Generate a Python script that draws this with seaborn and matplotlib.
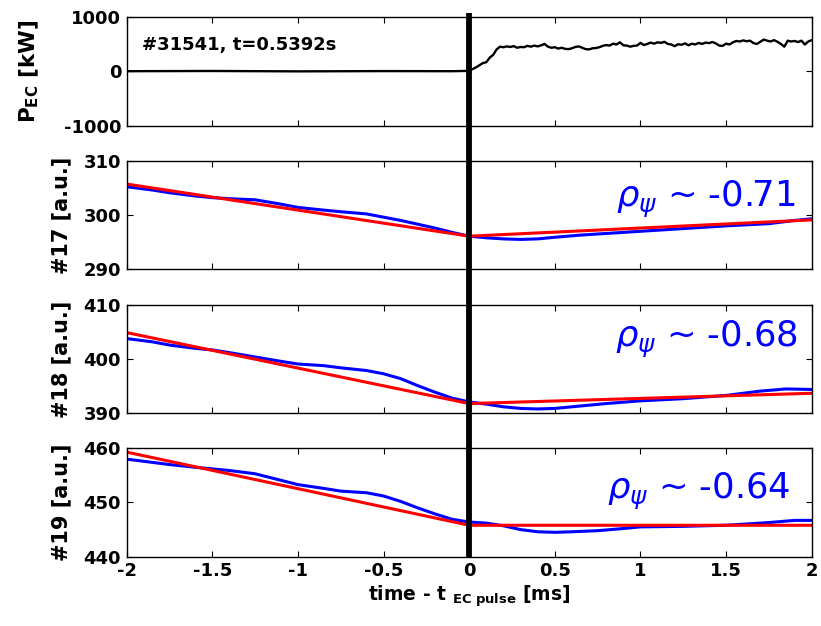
import numpy as np
import matplotlib
matplotlib.use('Agg')
import matplotlib.pyplot as plt
import matplotlib.transforms as mtransforms
from matplotlib.lines import Line2D
import seaborn as sns

# --- data (time relative to EC pulse, ms) ---
SHOT_TEXT = '#31541, t=0.5392s'
T_PULSE = 0.0

t_pec = [-2.0, -1.5, -1.0, -0.5, -0.1, -0.02,
         0.00, 0.02, 0.04, 0.06, 0.08, 0.10, 0.12, 0.14, 0.16, 0.18,
         0.20, 0.22, 0.24, 0.26, 0.28, 0.30, 0.32, 0.34, 0.36, 0.38,
         0.40, 0.42, 0.44, 0.46, 0.48, 0.50, 0.52, 0.54, 0.56, 0.58,
         0.60, 0.62, 0.64, 0.66, 0.68, 0.70, 0.72, 0.74, 0.76, 0.78,
         0.80, 0.82, 0.84, 0.86, 0.88, 0.90, 0.92, 0.94, 0.96, 0.98,
         1.00, 1.02, 1.04, 1.06, 1.08, 1.10, 1.12, 1.14, 1.16, 1.18,
         1.20, 1.22, 1.24, 1.26, 1.28, 1.30, 1.32, 1.34, 1.36, 1.38,
         1.40, 1.42, 1.44, 1.46, 1.48, 1.50, 1.52, 1.54, 1.56, 1.58,
         1.60, 1.62, 1.64, 1.66, 1.68, 1.70, 1.72, 1.74, 1.76, 1.78,
         1.80, 1.82, 1.84, 1.86, 1.88, 1.90, 1.92, 1.94, 1.96, 1.98, 2.00]
p_ec = [0, 4, -3, 2, 0, 5,
        15, 40, 70, 110, 150, 165, 250, 300, 400, 450,
        440, 455, 445, 460, 430, 445, 440, 465, 450, 470,
        455, 475, 500, 450, 430, 440, 415, 430, 410, 405,
        420, 445, 455, 430, 405, 400, 420, 425, 440, 465,
        480, 470, 505, 490, 530, 475, 470, 450, 465, 470,
        520, 480, 500, 525, 505, 530, 520, 540, 500, 490,
        460, 495, 485, 510, 475, 505, 490, 520, 500, 525,
        515, 535, 510, 470, 465, 505, 490, 530, 555, 545,
        565, 550, 560, 515, 500, 540, 580, 560, 545, 570,
        540, 500, 450, 560, 545, 555, 535, 560, 490, 545, 570]

channels = ['#17', '#18', '#19']
rho_psi = ['-0.71', '-0.68', '-0.64']
ylims = [(290, 310), (390, 410), (440, 460)]

t17 = [-2.0, -1.85, -1.75, -1.6, -1.5, -1.4, -1.25, -1.1, -1.0, -0.85, -0.75, -0.6,
       -0.5, -0.4, -0.3, -0.2, -0.1, 0.0, 0.1, 0.2, 0.3, 0.4, 0.5, 0.65, 0.8,
       1.0, 1.25, 1.5, 1.75, 1.9, 2.0]
ch17 = [305.2, 304.6, 304.1, 303.5, 303.2, 303.0, 302.8, 302.0, 301.4, 300.9, 300.6, 300.2,
        299.6, 299.0, 298.3, 297.6, 296.8, 296.1, 295.8, 295.6, 295.5, 295.6, 295.9, 296.3, 296.6,
        297.0, 297.5, 298.0, 298.4, 299.0, 299.3]
t18 = [-2.0, -1.85, -1.75, -1.6, -1.5, -1.4, -1.25, -1.1, -1.0, -0.85, -0.75, -0.6,
       -0.5, -0.4, -0.3, -0.2, -0.1, 0.0, 0.1, 0.2, 0.3, 0.4, 0.5, 0.6, 0.8,
       1.0, 1.25, 1.5, 1.7, 1.85, 2.0]
ch18 = [403.8, 403.2, 402.6, 402.0, 401.7, 401.2, 400.4, 399.6, 399.1, 398.8, 398.4, 397.9,
        397.3, 396.4, 395.1, 393.9, 392.8, 392.1, 391.7, 391.2, 390.9, 390.8, 390.9, 391.2, 391.8,
        392.3, 392.7, 393.3, 394.1, 394.5, 394.4]
t19 = [-2.0, -1.85, -1.75, -1.6, -1.5, -1.4, -1.25, -1.1, -1.0, -0.85, -0.75, -0.6,
       -0.5, -0.4, -0.3, -0.2, -0.1, 0.0, 0.1, 0.2, 0.3, 0.4, 0.5, 0.6, 0.75, 0.9,
       1.0, 1.25, 1.5, 1.75, 1.9, 2.0]
ch19 = [458.0, 457.4, 457.0, 456.5, 456.2, 455.9, 455.3, 454.1, 453.3, 452.6, 452.1, 451.8,
        451.2, 450.2, 449.0, 447.9, 446.9, 446.4, 446.2, 445.7, 445.0, 444.6, 444.5, 444.6, 444.8, 445.2,
        445.5, 445.6, 445.8, 446.3, 446.7, 446.7]

# two-segment linear fits (before / after pulse)
t_fit = [-2.0, 0.0, 2.0]
fit17 = [305.7, 296.1, 299.1]
fit18 = [404.9, 391.8, 393.7]
fit19 = [459.3, 445.8, 445.8]

data_t = [t17, t18, t19]
data_y = [ch17, ch18, ch19]
fits = [fit17, fit18, fit19]

xticks = [-2, -1.5, -1, -0.5, 0, 0.5, 1, 1.5, 2]
xticklabels = ['-2', '-1.5', '-1', '-0.5', '0', '0.5', '1', '1.5', '2']

# --- style ---
sns.set_style('ticks')
plt.rcParams['font.family'] = ['DejaVu Sans']
plt.rcParams['mathtext.fontset'] = 'dejavusans'
plt.rcParams['axes.unicode_minus'] = False
for key in ['text.color', 'axes.labelcolor', 'xtick.color', 'ytick.color',
            'xtick.labelcolor', 'ytick.labelcolor', 'axes.edgecolor']:
    plt.rcParams[key] = 'black'

W, H = 821, 626
fig = plt.figure(figsize=(W / 100, H / 100), dpi=100)
left, right = 126.7 / W, 811.7 / W
tops = [16.7, 160.7, 305.0, 448.3]
bots = [125.7, 269.3, 413.3, 556.7]
axes = [fig.add_axes([left, 1 - b / H, right - left, (b - t) / H]) for t, b in zip(tops, bots)]

TICK_FS = 13

def style_axis(ax, yt, show_x):
    ax.set_xlim(-2, 2)
    ax.set_xticks(xticks)
    ax.set_yticks(yt)
    ax.set_yticklabels([str(v) for v in yt], fontsize=TICK_FS, fontweight='bold')
    ax.tick_params(direction='in', length=4, width=0.8, top=True, right=True,
                   labelsize=TICK_FS, pad=4, colors='black')
    if show_x:
        ax.set_xticklabels(xticklabels, fontsize=TICK_FS, fontweight='bold')
    else:
        ax.set_xticklabels([])
    for sp in ax.spines.values():
        sp.set_visible(True)
        sp.set_linewidth(1.0)
        sp.set_color('black')
    ax.set_xlabel('')

# top: EC power
ax = axes[0]
sns.lineplot(x=t_pec, y=p_ec, ax=ax, color='black', linewidth=1.7)
ax.set_ylim(-1000, 1000)
style_axis(ax, [-1000, 0, 1000], False)
ax.set_ylabel(r'P$_{\mathbf{EC}}$ [kW]', fontsize=15.5, fontweight='bold', labelpad=16)
ax.text(0.023, 0.695, SHOT_TEXT, transform=ax.transAxes, fontsize=13,
        fontweight='bold', ha='left', va='baseline')

rho_pos = [(0.976, 0.575), (0.980, 0.615), (0.969, 0.53)]
for i in range(3):
    ax = axes[i + 1]
    sns.lineplot(x=data_t[i], y=data_y[i], ax=ax, color='#0000ff', linewidth=2.2)
    sns.lineplot(x=t_fit, y=fits[i], ax=ax, color='#ff0000', linewidth=2.2)
    lo, hi = ylims[i]
    ax.set_ylim(lo, hi)
    style_axis(ax, [lo, (lo + hi) // 2, hi], i == 2)
    ax.set_ylabel(f'{channels[i]} [a.u.]', fontsize=15, fontweight='bold', labelpad=9)
    ax.text(rho_pos[i][0], rho_pos[i][1], r'$\rho_{\psi}$ ~ ' + rho_psi[i],
            transform=ax.transAxes, fontsize=25.5, color='#0000ff',
            ha='right', va='baseline')

axes[-1].set_xlabel(r'time - t $_{\mathbf{EC\ pulse}}$ [ms]', fontsize=13.5,
                    fontweight='bold', labelpad=2)

# pulse marker spanning all panels
trans = mtransforms.blended_transform_factory(axes[-1].transData, fig.transFigure)
fig.add_artist(Line2D([T_PULSE, T_PULSE], [1 - 556.7 / H, 1 - 12.7 / H],
                      transform=trans, color='black', linewidth=4.2,
                      solid_capstyle='butt', zorder=10))

fig.savefig('out.png', dpi=100)
